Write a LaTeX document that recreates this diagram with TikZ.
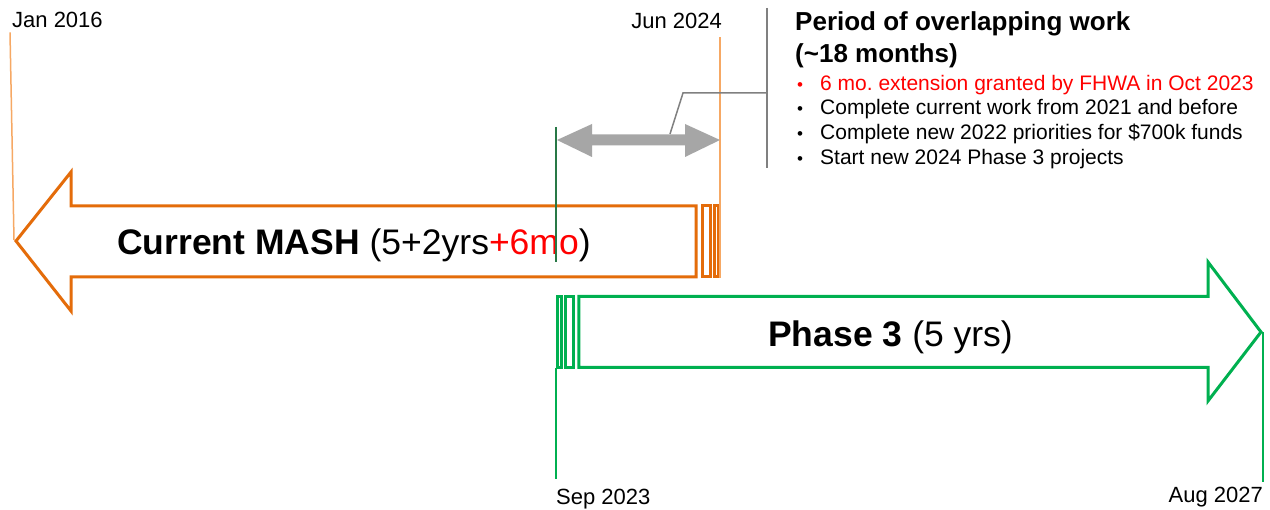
\documentclass[tikz,border=0pt]{standalone}
\usepackage{fontspec}
\setmainfont{Liberation Sans}
\usepackage{xcolor}
\usepackage{tikz}
\definecolor{mashorange}{RGB}{228,108,10}
\definecolor{mashlight}{RGB}{246,168,100}
\definecolor{phasegreen}{RGB}{0,176,80}
\definecolor{phasedark}{RGB}{40,120,70}
\definecolor{overlapgray}{RGB}{166,166,166}
\definecolor{notegray}{RGB}{128,128,128}
\definecolor{extred}{RGB}{255,0,0}
\frenchspacing

\begin{document}
\begin{tikzpicture}[x=1pt,y=-1pt,
  datelbl/.style={inner sep=0pt,font=\fontsize{22}{26}\selectfont},
  bigtext/.style={inner sep=0pt,anchor=base west,font=\fontsize{35.5}{42}\selectfont},
  itemtext/.style={inner sep=0pt,anchor=base west,font=\fontsize{21}{25}\selectfont},
  headtext/.style={inner sep=0pt,anchor=base west,font=\fontsize{26}{32}\selectfont\bfseries},
  dateline/.style={line width=1.5pt}]
\fill[white] (0,0) rectangle (1270,510);

% Current MASH arrow (pointing left)
\draw[mashorange, line width=3pt, fill=white, line join=miter]
  (16,241) -- (71,172) -- (71,206) -- (696,206) -- (696,277) -- (71,277) -- (71,311) -- cycle;
\draw[mashorange, line width=3pt] (702.5,206) rectangle (710.2,277);
\draw[mashorange, line width=3pt] (714.8,206) rectangle (718.8,277);
\node[bigtext] (mash) at (117,255) {\textbf{Current MASH} (5+2yrs\textcolor{extred}{+6mo})};

% Phase 3 arrow (pointing right)
\draw[phasegreen, line width=3pt, fill=white, line join=miter]
  (578.8,296.5) -- (1208,296.5) -- (1208,262) -- (1261,332) -- (1208,401) -- (1208,367.5) -- (578.8,367.5) -- cycle;
\draw[phasegreen, line width=3pt] (557.2,296.5) rectangle (561.2,367.5);
\draw[phasegreen, line width=3pt] (565.8,296.5) rectangle (573.5,367.5);
\node[bigtext] (phase) at (768,347) {\textbf{Phase 3} (5 yrs)};

% Dates
\node[datelbl, anchor=base west] (jan) at (12,28) {Jan 2016};
\node[datelbl, anchor=base east] (jun) at (722,29) {Jun 2024};
\node[datelbl, anchor=base west] (sep) at (556,504) {Sep 2023};
\node[datelbl, anchor=base east] (aug) at (1263,503) {Aug 2027};
\coordinate (mashtip) at (14,240);
\coordinate (mashend) at (720,278);
\coordinate (phasetip) at (1263,332);
\coordinate (phasestart) at (556,368);
\coordinate (overlaptop) at (556,127);
\coordinate (overlapbot) at (556,262);
\draw[dateline, mashlight] ([xshift=-2pt, yshift=-4pt]jan.south west) -- (mashtip);
\draw[dateline, mashlight] ([yshift=-8pt]mashend |- jun.south) -- (mashend);
\draw[dateline, phasedark] (overlaptop) -- (overlapbot);
\draw[dateline, phasegreen] (phasestart) -- ([yshift=9pt]phasestart |- sep.north);
\draw[dateline, phasegreen] (phasetip) -- ([yshift=5pt]phasetip |- aug.north);

% Overlap double arrow
\fill[overlapgray] (557,140) -- (592,124) -- (592,134.5) -- (685,134.5) -- (685,124) -- (720,140)
  -- (685,157) -- (685,145.5) -- (592,145.5) -- (592,157) -- cycle;

% Note
\coordinate (notefoot) at (670,134);
\coordinate (notebend) at (683,93);
\coordinate (notebar) at (767,93);
\draw[notegray, line width=1.5pt] (notefoot) -- (notebend) -- (notebar);
\draw[notegray, line width=2pt] (767,8) -- (767,168);
\node[headtext] (note1) at (795,31) {Period of overlapping work};
\node[headtext] (note2) at (795,63) {(\textasciitilde18 months)};
\foreach \y/\c/\t [count=\i] in {91/extred/6 mo. extension granted by FHWA in Oct 2023,
    115/black/Complete current work from 2021 and before,
    140/black/Complete new 2022 priorities for \$700k funds,
    165/black/Start new 2024 Phase 3 projects} {
  \node[itemtext, text=\c, font=\fontsize{17}{20}\selectfont] (dot\i) at (797,\y) {\textbullet};
  \node[itemtext, text=\c] (item\i) at (820,\y) {\t};
}
\end{tikzpicture}
\end{document}
